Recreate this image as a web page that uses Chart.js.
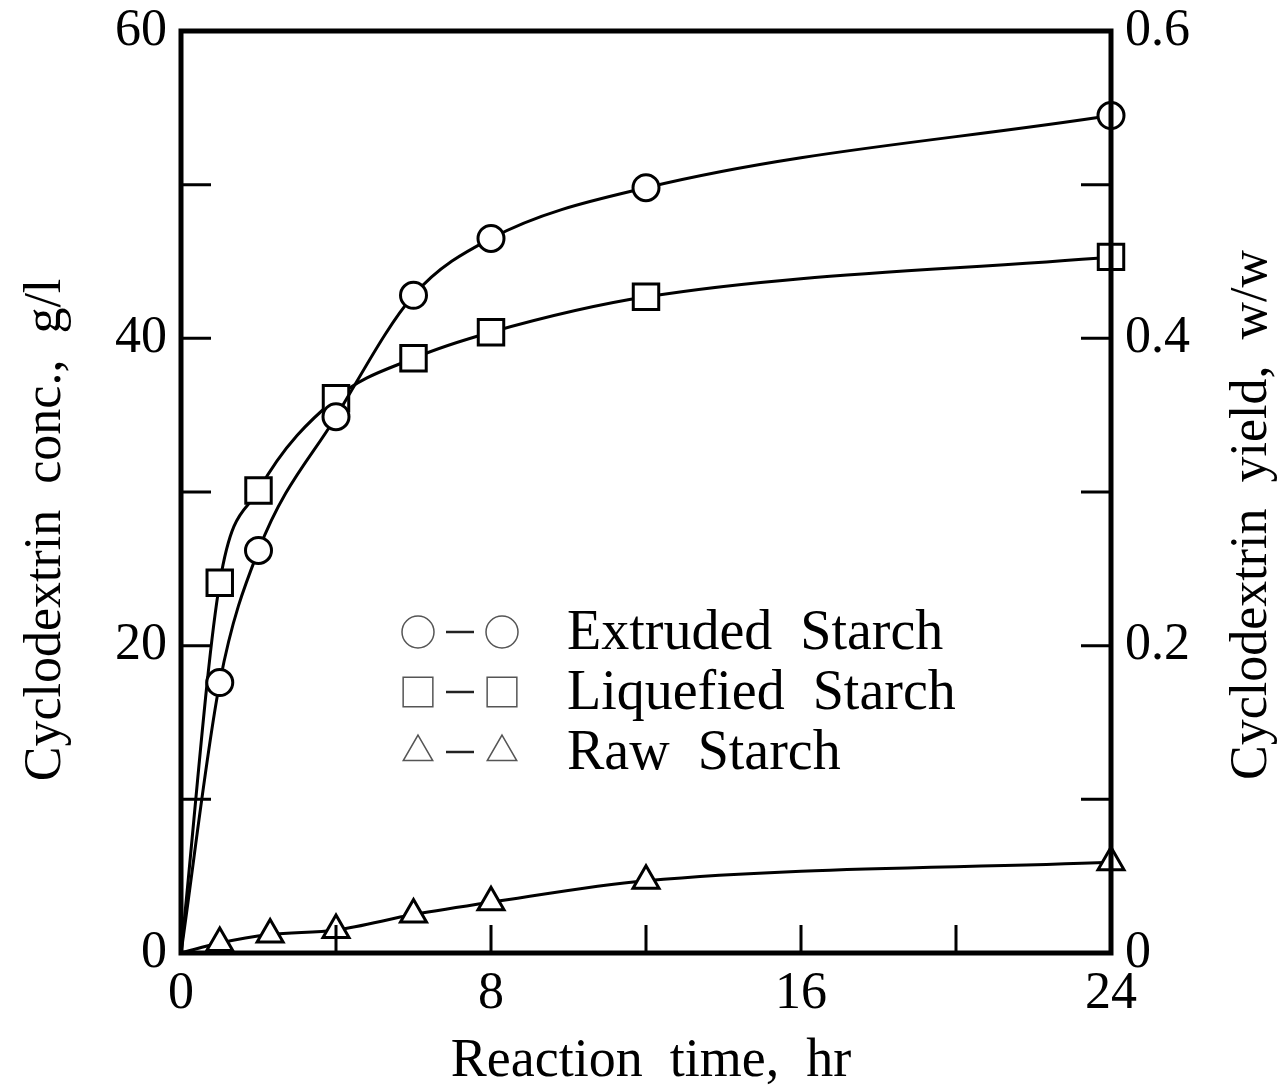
<!DOCTYPE html>
<html>
<head>
<meta charset="utf-8">
<script src="https://cdn.jsdelivr.net/npm/chart.js@4"></script>
<style>
  html, body { margin: 0; padding: 0; background: #fff; }
  #wrap { width: 1282px; height: 1088px; }
</style>
</head>
<body>
<div id="wrap"><canvas id="chart" width="1282" height="1088"></canvas></div>
<script>
// reaction time, hr
const hours = [0, 1, 2, 4, 6, 8, 12, 24];
const rawHours = [0, 1, 2.3, 4, 6, 8, 12, 24];
// cyclodextrin conc., g/l
const extruded = [0, 17.6, 26.2, 34.9, 42.8, 46.5, 49.8, 54.5];
const liquefied = [0, 24.1, 30.1, 36.1, 38.7, 40.4, 42.7, 45.3];
const raw = [0, 0.65, 1.2, 1.5, 2.5, 3.3, 4.7, 5.9];

const xTicks = [0, 8, 16, 24];
const xMinor = [4, 8, 12, 16, 20];
const yMinor = [10, 20, 30, 40, 50];
const y2Minor = [0.1, 0.2, 0.3, 0.4, 0.5];

const seriesNames = ['Extruded  Starch', 'Liquefied  Starch', 'Raw  Starch'];
const seriesStyles = ['circle', 'rect', 'triangle'];

const FONT = '"Liberation Serif", "DejaVu Serif", serif';

function pts(xs, ys) {
  return xs.map((x, i) => ({ x: x, y: ys[i] }));
}

function makeSet(label, data, style, radius) {
  return {
    label: label,
    data: data,
    borderColor: '#000',
    borderWidth: 3,
    backgroundColor: '#fff',
    pointStyle: style,
    pointRadius: data.map(p => p.x === 0 ? 0 : radius),
    pointBorderWidth: 3,
    pointBackgroundColor: '#fff',
    pointBorderColor: '#000',
    cubicInterpolationMode: 'monotone',
    clip: false
  };
}

const frame = {
  id: 'frame',
  afterDraw(chart) {
    const ctx = chart.ctx;
    const a = chart.chartArea;
    const x = chart.scales.x, y = chart.scales.y, y2 = chart.scales.y2;
    ctx.save();
    ctx.strokeStyle = '#000';
    ctx.lineWidth = 5;
    ctx.strokeRect(a.left, a.top, a.right - a.left, a.bottom - a.top);
    ctx.lineWidth = 3;
    ctx.beginPath();
    yMinor.forEach(v => {
      const py = y.getPixelForValue(v);
      ctx.moveTo(a.left, py); ctx.lineTo(a.left + 30, py);
    });
    y2Minor.forEach(v => {
      const py = y2.getPixelForValue(v);
      ctx.moveTo(a.right, py); ctx.lineTo(a.right - 30, py);
    });
    xMinor.forEach(v => {
      const px = x.getPixelForValue(v);
      ctx.moveTo(px, a.bottom); ctx.lineTo(px, a.bottom - 28);
    });
    ctx.stroke();

    // axis titles
    ctx.fillStyle = '#000';
    ctx.font = '54px ' + FONT;
    ctx.textAlign = 'center';
    ctx.textBaseline = 'middle';
    ctx.fillText('Reaction  time,  hr', 651, 1062);
    ctx.font = '52px ' + FONT;
    ctx.save();
    ctx.translate(46, 530);
    ctx.rotate(-Math.PI / 2);
    ctx.fillText('Cyclodextrin  conc.,  g/l', 0, 0);
    ctx.restore();
    ctx.save();
    ctx.translate(1252, 515);
    ctx.rotate(-Math.PI / 2);
    ctx.fillText('Cyclodextrin  yield,  w/w', 0, 0);
    ctx.restore();

    // legend
    ctx.font = '56px ' + FONT;
    ctx.textAlign = 'left';
    seriesNames.forEach((name, i) => {
      const cy = 632 + i * 60;
      const r = [16, 21, 17][i];
      ctx.strokeStyle = '#555';
      ctx.fillStyle = '#fff';
      ctx.lineWidth = 1.5;
      [418, 502].forEach(cx => {
        Chart.helpers.drawPoint(ctx, { pointStyle: seriesStyles[i], borderWidth: 1.5, radius: r, rotation: 0 }, cx, cy);
      });
      ctx.strokeStyle = '#222';
      ctx.lineWidth = 2.5;
      ctx.beginPath();
      ctx.moveTo(446, cy); ctx.lineTo(474, cy);
      ctx.stroke();
      ctx.fillStyle = '#000';
      ctx.fillText(name, 567, cy + 2);
    });
    ctx.restore();
  }
};

function noPadV(s) { s.paddingTop = 0; s.paddingBottom = 0; }

new Chart(document.getElementById('chart'), {
  type: 'line',
  data: {
    datasets: [
      makeSet(seriesNames[0], pts(hours, extruded), 'circle', 13),
      makeSet(seriesNames[1], pts(hours, liquefied), 'rect', 18),
      makeSet(seriesNames[2], pts(rawHours, raw), 'triangle', 15)
    ]
  },
  options: {
    responsive: false,
    animation: false,
    layout: { padding: { top: 31, left: 0, right: 0, bottom: 0 } },
    plugins: { legend: { display: false }, tooltip: { enabled: false } },
    scales: {
      x: {
        type: 'linear', min: 0, max: 24,
        afterBuildTicks: s => { s.ticks = xTicks.map(v => ({ value: v })); },
        afterFit: s => { s.height = 135; s.paddingLeft = 0; s.paddingRight = 0; },
        grid: { display: false, drawTicks: false },
        border: { display: false },
        ticks: { color: '#000', padding: 10, font: { family: FONT, size: 52 } }
      },
      y: {
        position: 'left', min: 0, max: 60,
        ticks: { stepSize: 20, color: '#000', padding: 14, font: { family: FONT, size: 52 } },
        afterFit: s => { s.width = 181; noPadV(s); },
        grid: { display: false, drawTicks: false },
        border: { display: false }
      },
      y2: {
        position: 'right', min: 0, max: 0.6,
        ticks: { stepSize: 0.2, color: '#000', padding: 14, font: { family: FONT, size: 52 },
          callback: v => v === 0 ? '0' : v.toFixed(1) },
        afterFit: s => { s.width = 171; noPadV(s); },
        grid: { display: false, drawTicks: false },
        border: { display: false }
      }
    }
  },
  plugins: [frame]
});
</script>
</body>
</html>
